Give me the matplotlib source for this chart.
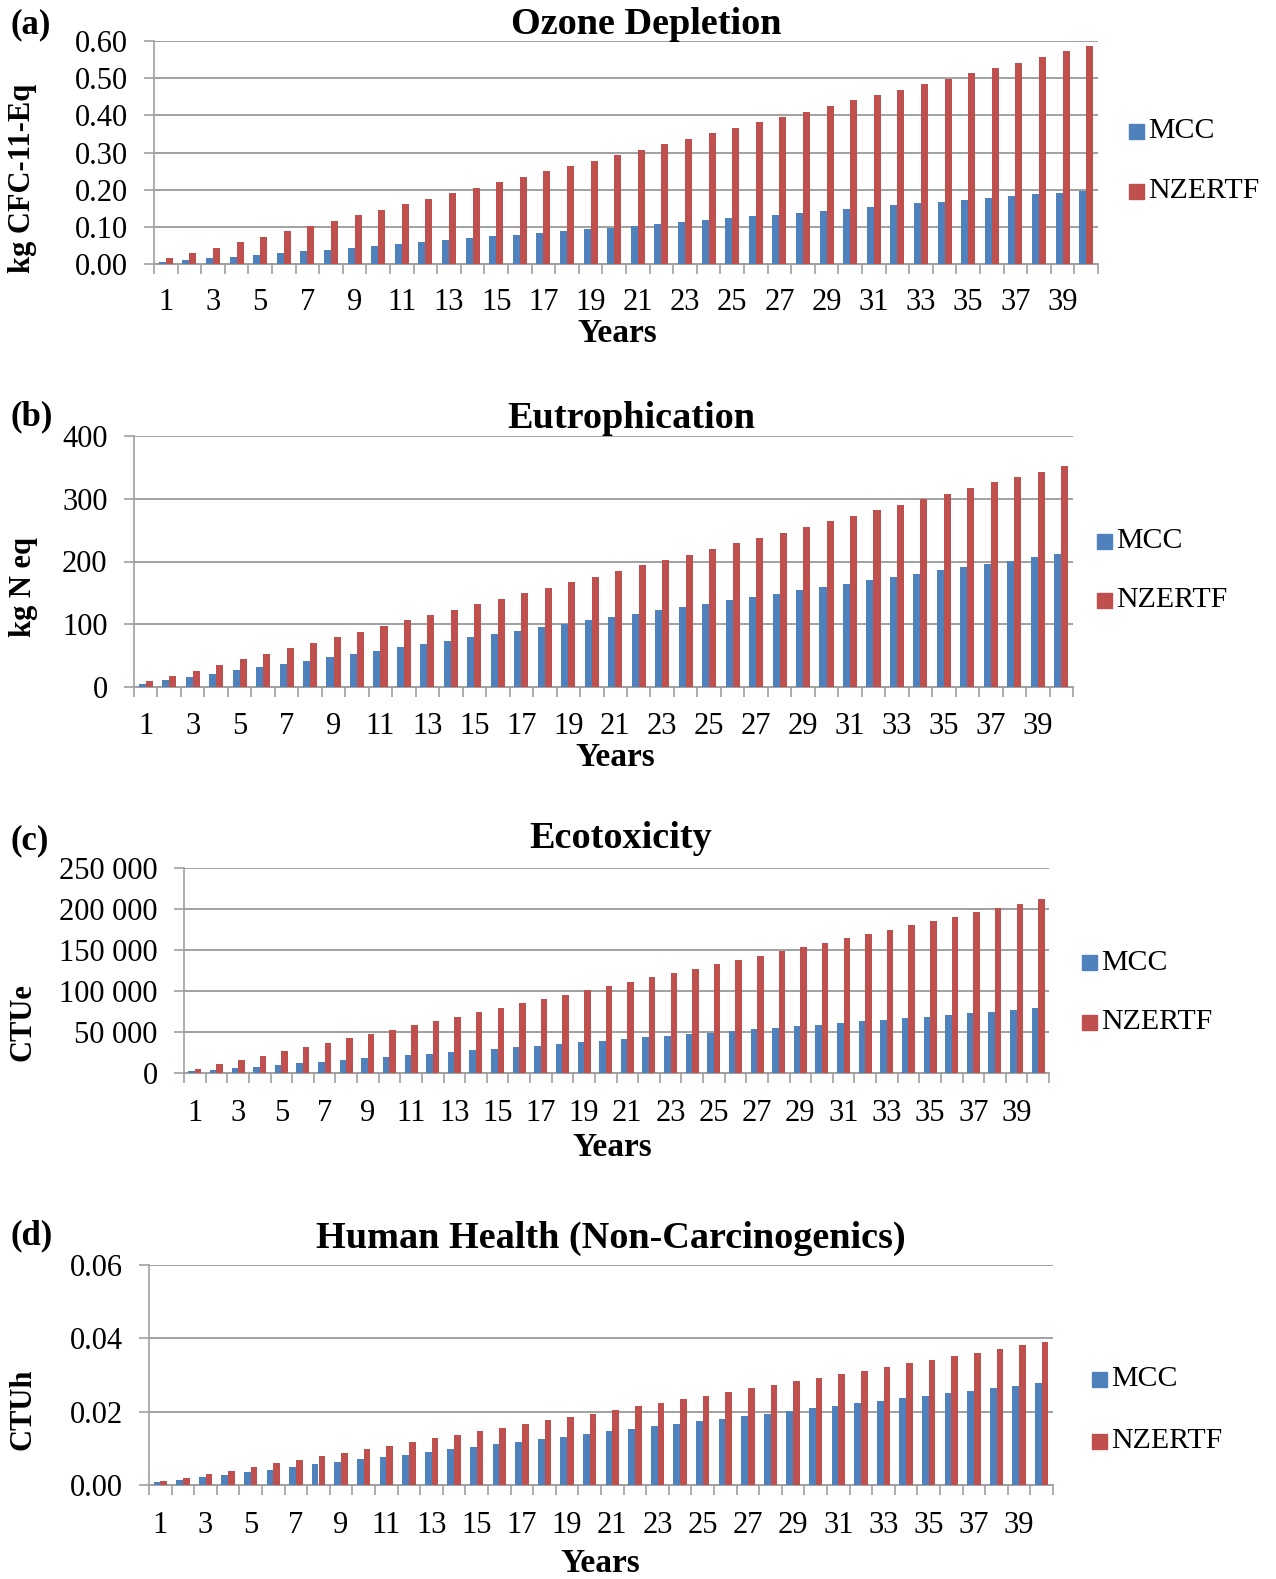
import matplotlib
matplotlib.use("Agg")
import matplotlib.pyplot as plt
import numpy as np
from matplotlib.ticker import FuncFormatter, FixedLocator

plt.rcParams['font.family'] = ['Liberation Serif', 'DejaVu Serif']

years = list(range(1, 41))
xlabels = [str(y) if y % 2 == 1 else "" for y in years]

ozone_mcc = [0.005, 0.010, 0.015, 0.020, 0.025, 0.030, 0.035, 0.039, 0.044, 0.049,
             0.054, 0.059, 0.064, 0.069, 0.074, 0.079, 0.084, 0.089, 0.094, 0.098,
             0.103, 0.108, 0.113, 0.118, 0.123, 0.128, 0.133, 0.138, 0.143, 0.148,
             0.153, 0.158, 0.163, 0.168, 0.173, 0.177, 0.182, 0.187, 0.192, 0.197]
ozone_nz = [0.015, 0.029, 0.044, 0.059, 0.073, 0.088, 0.102, 0.117, 0.132, 0.146,
            0.161, 0.176, 0.190, 0.205, 0.220, 0.234, 0.249, 0.264, 0.278, 0.293,
            0.308, 0.322, 0.337, 0.352, 0.366, 0.381, 0.396, 0.410, 0.425, 0.440,
            0.454, 0.469, 0.484, 0.498, 0.513, 0.528, 0.542, 0.557, 0.572, 0.586]

eutro_mcc = [5, 11, 16, 21, 27, 32, 37, 42, 48, 53, 58, 64, 69, 74, 80, 85, 90, 95, 101, 106,
             111, 117, 122, 127, 133, 138, 143, 148, 154, 159, 164, 170, 175, 180, 186, 191,
             196, 201, 207, 212]
eutro_nz = [9, 18, 26, 35, 44, 53, 62, 70, 79, 88, 97, 106, 114, 123, 132, 141, 150, 158, 167,
            176, 185, 194, 202, 211, 220, 229, 238, 246, 255, 264, 273, 282, 290, 299, 308,
            317, 326, 334, 343, 352]

eco_mcc = [2000, 3900, 5900, 7900, 9800, 11800, 13800, 15700, 17700, 19700, 21600, 23600,
           25600, 27500, 29500, 31500, 33400, 35400, 37400, 39300, 41300, 43300, 45200,
           47200, 49200, 51100, 53100, 55100, 57000, 59000, 61000, 62900, 64900, 66900,
           68800, 70800, 72800, 74700, 76700, 78700]
eco_nz = [5300, 10600, 15900, 21200, 26500, 31800, 37100, 42400, 47700, 53000, 58300, 63600,
          68900, 74200, 79500, 84800, 90100, 95400, 100700, 106000, 111300, 116600, 121900,
          127200, 132500, 137800, 143100, 148400, 153700, 159000, 164300, 169600, 174900,
          180200, 185500, 190800, 196100, 201400, 206700, 212000]

hh_mcc = [0.0007, 0.0014, 0.0021, 0.0028, 0.0035, 0.0042, 0.0049, 0.0056, 0.0063, 0.0070,
          0.0077, 0.0083, 0.0090, 0.0097, 0.0104, 0.0111, 0.0118, 0.0125, 0.0132, 0.0139,
          0.0146, 0.0153, 0.0160, 0.0167, 0.0174, 0.0181, 0.0188, 0.0195, 0.0202, 0.0209,
          0.0216, 0.0223, 0.0230, 0.0237, 0.0244, 0.0250, 0.0257, 0.0264, 0.0271, 0.0278]
hh_nz = [0.00098, 0.00195, 0.0029, 0.0039, 0.0049, 0.0059, 0.0068, 0.0078, 0.0088, 0.0098,
         0.0107, 0.0117, 0.0127, 0.0137, 0.0146, 0.0156, 0.0166, 0.0176, 0.0186, 0.0195,
         0.0205, 0.0215, 0.0224, 0.0234, 0.0244, 0.0254, 0.0264, 0.0273, 0.0283, 0.0293,
         0.0303, 0.0312, 0.0322, 0.0332, 0.0342, 0.0351, 0.0361, 0.0371, 0.0381, 0.0390]

series_names = ["MCC", "NZERTF"]
BLUE = "#4F81BD"
RED = "#C0504D"
GRID = "#A0A0A0"

W, H = 1276, 1579
fig = plt.figure(figsize=(W / 100, H / 100), dpi=100)


def px_axes(l, t, r, b):
    return fig.add_axes([l / W, (H - b) / H, (r - l) / W, (b - t) / H])


def fmt_thousands(v, pos):
    return f"{int(round(v)):,}".replace(",", " ")


panels = [
    dict(box=(154, 41, 1098, 264), mcc=ozone_mcc, nz=ozone_nz, ylim=(0, 0.6),
         yticks=[0, 0.1, 0.2, 0.3, 0.4, 0.5, 0.6], fmt=lambda v, p: f"{v:.2f}",
         ylabel="kg CFC-11-Eq", ylab_y=178, title="Ozone Depletion", title_xy=(646, 24),
         letter="(a)", letter_y=25, years_xy=(617, 334), leg=(1129, 131, 191), pad=17),
    dict(box=(134, 436, 1073, 687), mcc=eutro_mcc, nz=eutro_nz, ylim=(0, 400),
         yticks=[0, 100, 200, 300, 400], fmt=lambda v, p: f"{int(v)}",
         ylabel="kg N eq", ylab_y=587, title="Eutrophication", title_xy=(631, 418),
         letter="(b)", letter_y=417, years_xy=(615, 757), leg=(1097, 541, 600), pad=18),
    dict(box=(184, 868, 1049, 1073), mcc=eco_mcc, nz=eco_nz, ylim=(0, 250000),
         yticks=[0, 50000, 100000, 150000, 200000, 250000], fmt=fmt_thousands,
         ylabel="CTUe", ylab_y=1022, title="Ecotoxicity", title_xy=(621, 838),
         letter="(c)", letter_y=841, years_xy=(612, 1148), leg=(1082, 963, 1022), pad=19),
    dict(box=(149, 1265, 1053, 1485), mcc=hh_mcc, nz=hh_nz, ylim=(0, 0.06),
         yticks=[0, 0.02, 0.04, 0.06], fmt=lambda v, p: f"{v:.2f}",
         ylabel="CTUh", ylab_y=1409, title="Human Health (Non-Carcinogenics)",
         title_xy=(611, 1238), letter="(d)", letter_y=1236, years_xy=(600, 1563),
         leg=(1092, 1379, 1441), pad=19),
]

x = np.arange(1, 41)
bw = 0.3

for p in panels:
    ax = px_axes(*p["box"])
    ax.bar(x - bw / 2, p["mcc"], width=bw, color=BLUE, zorder=3, linewidth=0)
    ax.bar(x + bw / 2, p["nz"], width=bw, color=RED, zorder=3, linewidth=0)
    ax.set_xlim(0.5, 40.5)
    ax.set_ylim(*p["ylim"])
    ax.set_yticks(p["yticks"])
    ax.yaxis.set_major_formatter(FuncFormatter(p["fmt"]))
    ax.set_xticks(x)
    ax.set_xticklabels(xlabels)
    ax.xaxis.set_minor_locator(FixedLocator(np.arange(0.5, 41, 1)))
    ax.tick_params(axis="x", which="major", length=0, pad=p["pad"], labelsize=22)
    ax.tick_params(axis="x", which="minor", length=7, color=GRID, width=1.2, direction="out")
    ax.tick_params(axis="y", length=7, color=GRID, width=1.2, pad=12, labelsize=22)
    ax.grid(axis="y", color=GRID, linewidth=1.4, zorder=0)
    for s in ["top", "right"]:
        ax.spines[s].set_visible(False)
    ax.spines["left"].set_color(GRID)
    ax.spines["bottom"].set_color(GRID)
    ax.spines["left"].set_linewidth(1.2)
    ax.spines["bottom"].set_linewidth(1.4)

    fig.text(p["title_xy"][0] / W, 1 - p["title_xy"][1] / H, p["title"], ha="center",
             va="center", fontsize=27.5, fontweight="bold")
    fig.text(11 / W, 1 - p["letter_y"] / H, p["letter"], ha="left", va="center",
             fontsize=25, fontweight="bold")
    fig.text(23 / W, 1 - p["ylab_y"] / H, p["ylabel"], ha="center", va="center",
             rotation=90, fontsize=22, fontweight="bold")
    fig.text(p["years_xy"][0] / W, 1 - p["years_xy"][1] / H, "Years", ha="center",
             va="center", fontsize=24, fontweight="bold")
    lx, y1, y2 = p["leg"]
    for yy, col, name in [(y1, BLUE, series_names[0]), (y2, RED, series_names[1])]:
        fig.patches.append(plt.Rectangle((lx / W, 1 - (yy + 7.5) / H), 15 / W, 15 / H,
                                         transform=fig.transFigure, color=col))
        fig.text((lx + 19) / W, 1 - yy / H, name, ha="left", va="center", fontsize=21.5)

fig.savefig("out.png", dpi=100)
